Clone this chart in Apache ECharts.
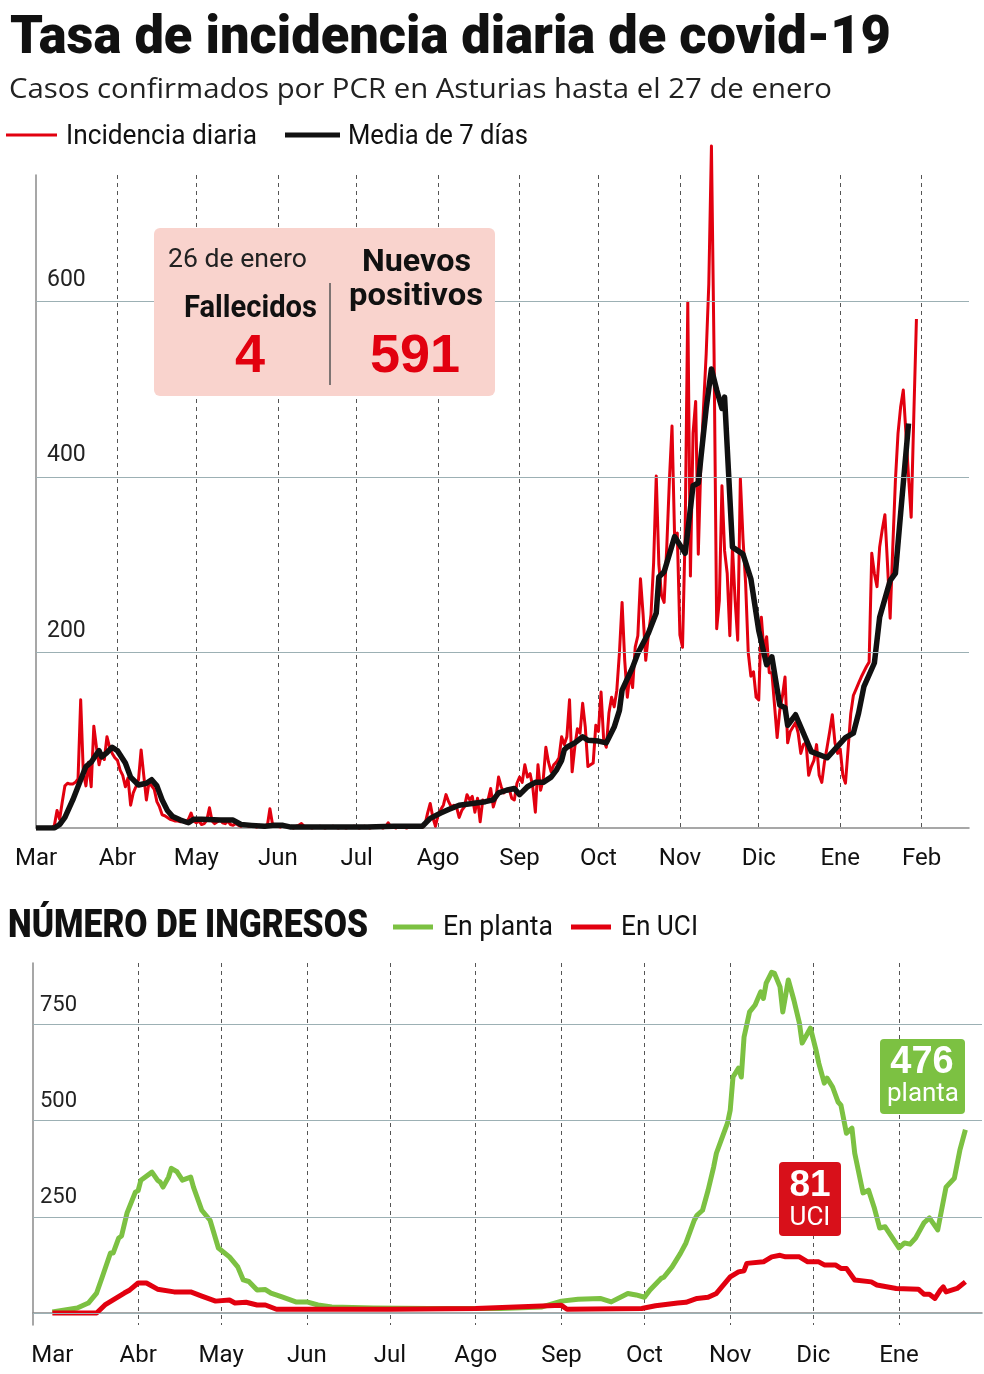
<!DOCTYPE html>
<html>
<head>
<meta charset="utf-8">
<script src="https://cdn.jsdelivr.net/npm/echarts@6/dist/echarts.min.js"></script>
<style>
html,body{margin:0;padding:0;background:#fff;}
#chart{width:984px;height:1374px;}
</style>
</head>
<body>
<div id="chart"></div>
<script>
// fuentes y colores
const SANS = 'Roboto, "Noto Sans", sans-serif'
const OPEN = '"Open Sans", "Noto Sans", sans-serif'
const BOLD = '"Liberation Sans", Arial, sans-serif'
const RED = '#e2000f'
const GREEN = '#7cc142'

const meses = ['Ene','Feb','Mar','Abr','May','Jun','Jul','Ago','Sep','Oct','Nov','Dic']

// incidencia diaria por mes (casos), desde el 1 de marzo de 2020
const incMar = [0,0,0,0,0,0,0,3,20,10,30,48,51,50,50,52,56,146,63,48,75,47,116,92,72,85,78,104,92,85,80]
const incAbr = [77,66,60,47,57,26,40,47,55,89,60,32,52,48,44,30,24,15,14,12,10,9,8,8,7,8,6,10,17,8]
const incMay = [6,8,4,5,9,23,8,5,7,10,6,5,8,4,3,5,3,2,4,3,2,3,2,1,3,2,1,2,22,4,3]
const incJun = [2,1,3,2,1,1,0,2,3,5,2,1,1,0,1,1,2,1,0,1,1,2,1,0,1,1,0,1,1,2]
const incJul = [1,0,1,2,1,0,1,1,2,1,0,1,6,1,1,0,2,1,1,0,1,2,1,1,2,1,4,17,28,12,2]
const incAgo = [15,21,26,38,30,24,26,24,12,20,24,38,32,36,18,34,7,32,30,32,45,24,34,58,47,40,43,45,34,32,51]
const incSep = [58,52,72,58,62,47,18,72,43,55,92,75,64,72,75,80,104,95,104,146,64,92,113,108,142,115,70,72,74,117]
const incOct = [110,155,100,92,131,149,138,157,200,257,191,149,176,160,206,219,284,243,191,220,243,302,401,300,265,257,320,396,458,330,336]
const incNov = [220,206,336,599,287,450,486,312,418,480,540,620,777,540,227,259,390,316,290,219,320,260,214,398,330,279,200,173,178,149]
const incDic = [146,240,200,218,177,177,140,103,134,150,172,97,110,115,120,108,85,95,97,60,70,77,95,60,52,75,92,110,129,97,85]
const incEne = [90,60,51,90,130,151,158,165,172,178,184,189,313,290,275,320,340,357,300,239,320,396,450,480,499,450,400,354,470,580]

// media de 7 dias [fecha, valor]
const media7 = [
  ['2020-03-01',0],['2020-03-08',0],['2020-03-10',4],['2020-03-12',12],['2020-03-15',32],['2020-03-18',55],
  ['2020-03-20',70],['2020-03-22',75],['2020-03-24',84],['2020-03-25',88],['2020-03-26',81],['2020-03-28',86],
  ['2020-03-30',92],['2020-04-01',88],['2020-04-04',74],['2020-04-06',58],['2020-04-09',49],['2020-04-12',51],
  ['2020-04-14',55],['2020-04-16',48],['2020-04-18',32],['2020-04-20',20],['2020-04-22',13],['2020-04-25',9],
  ['2020-04-28',6],['2020-04-30',10],['2020-05-03',10],['2020-05-10',9],['2020-05-15',9],['2020-05-18',4],
  ['2020-05-22',3],['2020-05-27',2],['2020-05-30',3],['2020-06-03',3],['2020-06-06',1],['2020-06-20',1],
  ['2020-07-05',1],['2020-07-15',2],['2020-07-26',2],['2020-07-29',11],['2020-08-02',17],['2020-08-05',21],
  ['2020-08-09',26],['2020-08-14',28],['2020-08-19',30],['2020-08-22',32],['2020-08-24',40],['2020-08-27',43],
  ['2020-08-30',45],['2020-09-01',38],['2020-09-04',47],['2020-09-07',52],['2020-09-10',52],['2020-09-13',58],
  ['2020-09-15',66],['2020-09-17',77],['2020-09-18',89],['2020-09-19',92],['2020-09-22',97],['2020-09-25',104],
  ['2020-09-27',100],['2020-10-01',99],['2020-10-04',97],['2020-10-07',115],['2020-10-09',134],['2020-10-10',157],
  ['2020-10-14',183],['2020-10-16',199],['2020-10-20',222],['2020-10-23',245],['2020-10-24',286],['2020-10-26',292],
  ['2020-10-30',332],['2020-11-03',313],['2020-11-06',390],['2020-11-08',393],['2020-11-09',422],['2020-11-11',478],
  ['2020-11-13',523],['2020-11-15',499],['2020-11-17',478],['2020-11-18',491],['2020-11-21',320],['2020-11-25',312],
  ['2020-11-28',284],['2020-12-01',225],['2020-12-04',186],['2020-12-06',195],['2020-12-09',140],['2020-12-11',137],
  ['2020-12-12',117],['2020-12-15',129],['2020-12-21',87],['2020-12-27',80],['2021-01-03',103],['2021-01-06',108],
  ['2021-01-08',131],['2021-01-10',161],['2021-01-14',188],['2021-01-16',240],['2021-01-20',282],['2021-01-22',290],
  ['2021-01-24',359],['2021-01-27',461]
]

// ingresos en planta [fecha, valor]
const planta = [
  ['2020-03-01',3],['2020-03-10',13],['2020-03-14',26],['2020-03-17',52],['2020-03-19',93],['2020-03-22',156],
  ['2020-03-23',156],['2020-03-25',195],['2020-03-26',200],['2020-03-28',260],['2020-03-31',314],['2020-04-01',318],
  ['2020-04-02',345],['2020-04-06',366],['2020-04-08',345],['2020-04-09',340],['2020-04-10',327],['2020-04-12',353],
  ['2020-04-13',376],['2020-04-15',367],['2020-04-17',345],['2020-04-20',353],['2020-04-21',327],['2020-04-24',267],
  ['2020-04-27',241],['2020-04-30',169],['2020-05-04',146],['2020-05-07',120],['2020-05-09',86],['2020-05-11',82],
  ['2020-05-14',60],['2020-05-17',61],['2020-05-19',52],['2020-05-23',42],['2020-05-28',29],['2020-06-01',29],
  ['2020-06-05',21],['2020-06-10',16],['2020-06-25',13],['2020-07-15',12],['2020-08-10',12],['2020-08-25',16],
  ['2020-09-01',31],['2020-09-07',36],['2020-09-15',38],['2020-09-19',29],['2020-09-25',51],['2020-09-28',47],
  ['2020-10-01',41],['2020-10-03',60],['2020-10-07',90],['2020-10-08',93],['2020-10-11',120],['2020-10-14',155],
  ['2020-10-16',182],['2020-10-19',241],['2020-10-20',254],['2020-10-22',267],['2020-10-24',319],['2020-10-26',379],
  ['2020-10-27',415],['2020-10-29',454],['2020-10-31',493],['2020-11-01',527],['2020-11-02',613],['2020-11-04',636],
  ['2020-11-05',613],['2020-11-06',717],['2020-11-08',782],['2020-11-10',800],['2020-11-12',834],['2020-11-13',817],
  ['2020-11-14',857],['2020-11-16',885],['2020-11-17',882],['2020-11-19',847],['2020-11-20',782],['2020-11-22',865],
  ['2020-11-24',813],['2020-11-26',753],['2020-11-27',701],['2020-11-30',740],['2020-12-02',683],['2020-12-03',649],
  ['2020-12-05',597],['2020-12-06',610],['2020-12-08',587],['2020-12-10',548],['2020-12-11',540],['2020-12-13',467],
  ['2020-12-15',480],['2020-12-16',415],['2020-12-19',312],['2020-12-21',319],['2020-12-23',275],['2020-12-25',221],
  ['2020-12-27',224],['2021-01-01',169],['2021-01-03',182],['2021-01-05',179],['2021-01-07',195],['2021-01-10',234],
  ['2021-01-12',247],['2021-01-15',216],['2021-01-18',327],['2021-01-21',350],['2021-01-23',423],['2021-01-25',476]
]

// ingresos en UCI [fecha, valor]
const uci = [
  ['2020-03-01',0],['2020-03-17',0],['2020-03-20',21],['2020-03-27',52],['2020-03-29',60],['2020-04-01',78],
  ['2020-04-04',78],['2020-04-08',62],['2020-04-14',55],['2020-04-20',55],['2020-04-24',44],['2020-04-29',31],
  ['2020-05-04',34],['2020-05-06',26],['2020-05-10',28],['2020-05-14',21],['2020-05-17',21],['2020-05-21',10],
  ['2020-07-01',10],['2020-08-01',12],['2020-09-01',20],['2020-09-03',10],['2020-09-30',12],['2020-10-05',19],
  ['2020-10-13',26],['2020-10-16',28],['2020-10-20',38],['2020-10-24',41],['2020-10-27',51],['2020-11-01',94],
  ['2020-11-04',107],['2020-11-06',110],['2020-11-07',129],['2020-11-13',133],['2020-11-16',146],['2020-11-19',150],
  ['2020-11-21',146],['2020-11-26',146],['2020-11-29',133],['2020-12-03',133],['2020-12-05',125],['2020-12-09',125],
  ['2020-12-11',116],['2020-12-13',116],['2020-12-16',86],['2020-12-22',81],['2020-12-24',73],['2020-12-31',64],
  ['2021-01-08',62],['2021-01-10',49],['2021-01-12',49],['2021-01-14',38],['2021-01-16',60],['2021-01-17',68],
  ['2021-01-18',55],['2021-01-22',64],['2021-01-25',81]
]

// lineas guia del eje y
const ticksArriba = [200, 400, 600]
const ticksAbajo = [0, 250, 500, 750]

// lista de fechas 'YYYY-MM-DD'
function dias(desde, hasta) {
  let out = []
  let fin = Date.parse(hasta + 'T00:00:00Z')
  for (let t = Date.parse(desde + 'T00:00:00Z'); t <= fin; t += 86400000) {
    out.push(new Date(t).toISOString().slice(0, 10))
  }
  return out
}
const fechasArriba = dias('2020-03-01', '2021-02-19')
const fechasAbajo = dias('2020-02-23', '2021-01-31')

const incidencia = [].concat(incMar, incAbr, incMay, incJun, incJul, incAgo, incSep, incOct, incNov, incDic, incEne)

const esMes = v => v.slice(8) === '01'

function ejeX(grid, fechas) {
  return {
    type: 'category', gridIndex: grid, data: fechas, boundaryGap: false,
    axisLine: {lineStyle: {color: '#8a8a8a', width: 1.5}},
    axisTick: {show: false},
    axisLabel: {
      interval: (i, v) => esMes(v),
      formatter: v => meses[+v.slice(5, 7) - 1],
      fontFamily: SANS, fontSize: 24, color: '#111', margin: 19
    },
    splitLine: {
      show: true,
      interval: (i, v) => esMes(v) && v.slice(5, 7) !== '03',
      lineStyle: {color: '#555', type: [4, 4], width: 1}
    }
  }
}

function ejeY(grid, min, max) {
  return {
    type: 'value', gridIndex: grid, min: min, max: max,
    axisLine: {show: true, lineStyle: {color: '#8a8a8a', width: 1.5}},
    axisTick: {show: false}, axisLabel: {show: false}, splitLine: {show: false}
  }
}

function guias(grid, ticks, label) {
  return {
    type: 'line', xAxisIndex: grid, yAxisIndex: grid, data: [], silent: true, z: 1,
    markLine: {
      symbol: 'none', silent: true,
      lineStyle: {color: '#9cb0b4', type: 'solid', width: 1.2},
      label: label,
      data: ticks.map(v => v === 0 ? {yAxis: v, label: {show: false}} : {yAxis: v})
    }
  }
}

// leyenda: solo la muestra de linea, el texto va en graphic
function leyenda(nombre, left, cy, ancho, grosor) {
  return {
    data: [nombre], left: left, top: cy - grosor / 2, padding: 0, icon: 'rect',
    itemWidth: ancho, itemHeight: grosor, selectedMode: false,
    formatter: () => '', textStyle: {fontSize: 1, lineHeight: 1}
  }
}

// texto estrechado para ocupar un ancho dado
const ctx = document.createElement('canvas').getContext('2d')
function texto(str, font, left, cy, ancho, color) {
  ctx.font = font
  let w = ctx.measureText(str).width
  return {
    type: 'text', z: 101, x: left, y: cy, scaleX: ancho / w,
    style: {text: str, font: font, fill: color, align: 'left', verticalAlign: 'middle'}
  }
}
function centrado(str, font, cx, cy, color) {
  return {
    type: 'text', z: 101, x: cx, y: cy,
    style: {text: str, font: font, fill: color, align: 'center', verticalAlign: 'middle'}
  }
}

let option = {
  animation: false,
  backgroundColor: '#fff',
  textStyle: {fontFamily: SANS},
  legend: [
    leyenda('Incidencia diaria', 6, 135, 51, 3),
    leyenda('Media de 7 días', 285, 135, 55, 5),
    leyenda('En planta', 393, 927, 40, 5),
    leyenda('En UCI', 571, 927, 40, 5)
  ],
  grid: [
    {left: 36, right: 15, top: 175, bottom: 546},
    {left: 33, right: 2, top: 963, bottom: 49}
  ],
  xAxis: [ejeX(0, fechasArriba), ejeX(1, fechasAbajo)],
  yAxis: [ejeY(0, 0, 744), ejeY(1, -31, 909)],
  series: [
    guias(0, ticksArriba, {position: 'insideStartTop', distance: 5, padding: [0, 0, 5, 6],
      fontFamily: SANS, fontSize: 23, color: '#222'}),
    guias(1, ticksAbajo, {position: 'insideStartTop', distance: 5, padding: [0, 0, 3, 2],
      fontFamily: SANS, fontSize: 22, color: '#222'}),
    {name: 'Incidencia diaria', type: 'line', xAxisIndex: 0, yAxisIndex: 0, data: incidencia,
      symbol: 'none', clip: false, z: 3, itemStyle: {color: RED},
      lineStyle: {color: RED, width: 3, join: 'round'}},
    {name: 'Media de 7 días', type: 'line', xAxisIndex: 0, yAxisIndex: 0, data: media7,
      symbol: 'none', z: 4, itemStyle: {color: '#111'},
      lineStyle: {color: '#111', width: 5.5, join: 'round'}},
    {name: 'En planta', type: 'line', xAxisIndex: 1, yAxisIndex: 1, data: planta,
      symbol: 'none', z: 3, itemStyle: {color: GREEN},
      lineStyle: {color: GREEN, width: 5, join: 'round'}},
    {name: 'En UCI', type: 'line', xAxisIndex: 1, yAxisIndex: 1, data: uci,
      symbol: 'none', z: 4, itemStyle: {color: RED},
      lineStyle: {color: RED, width: 5, join: 'round'}}
  ],
  graphic: [
    // titulos
    texto('Tasa de incidencia diaria de covid-19', '900 54px ' + SANS, 10, 39, 881, '#111'),
    texto('Casos confirmados por PCR en Asturias hasta el 27 de enero', '28px ' + OPEN, 9, 90, 823, '#222'),
    texto('NÚMERO DE INGRESOS', '900 38px ' + SANS, 8, 927, 360, '#111'),
    // textos de leyenda
    texto('Incidencia diaria', '27px ' + SANS, 66, 137, 191, '#111'),
    texto('Media de 7 días', '27px ' + SANS, 348, 137, 180, '#111'),
    texto('En planta', '27px ' + SANS, 443, 928, 110, '#111'),
    texto('En UCI', '27px ' + SANS, 621, 928, 77, '#111'),
    // recuadro de datos del dia
    {type: 'rect', z: 100, shape: {x: 154, y: 228, width: 341, height: 168, r: 6}, style: {fill: '#f9d3cd'}},
    {type: 'line', z: 101, shape: {x1: 330, y1: 283, x2: 330, y2: 385}, style: {stroke: '#555', lineWidth: 1.5}},
    texto('26 de enero', '25px ' + SANS, 168, 261, 139, '#222'),
    texto('Fallecidos', 'bold 31px ' + SANS, 184, 309, 133, '#111'),
    texto('Nuevos', 'bold 31px ' + SANS, 362, 263, 109, '#111'),
    texto('positivos', 'bold 31px ' + SANS, 349, 297, 134, '#111'),
    centrado('4', 'bold 54px ' + BOLD, 250, 357, RED),
    centrado('591', 'bold 54px ' + BOLD, 415, 357, RED),
    // etiquetas finales de ingresos
    {type: 'rect', z: 100, shape: {x: 880, y: 1039, width: 85, height: 75, r: 4}, style: {fill: GREEN}},
    centrado('476', 'bold 38px ' + BOLD, 922, 1063, '#fff'),
    texto('planta', '26px ' + SANS, 887, 1094, 72, '#fff'),
    {type: 'rect', z: 100, shape: {x: 779, y: 1162, width: 62, height: 74, r: 4}, style: {fill: '#d8101a'}},
    centrado('81', 'bold 37px ' + BOLD, 810, 1186, '#fff'),
    centrado('UCI', '26px ' + SANS, 810, 1218, '#fff')
  ]
}

let myChart = echarts.init(document.getElementById('chart'))
myChart.setOption(option)
</script>
</body>
</html>
